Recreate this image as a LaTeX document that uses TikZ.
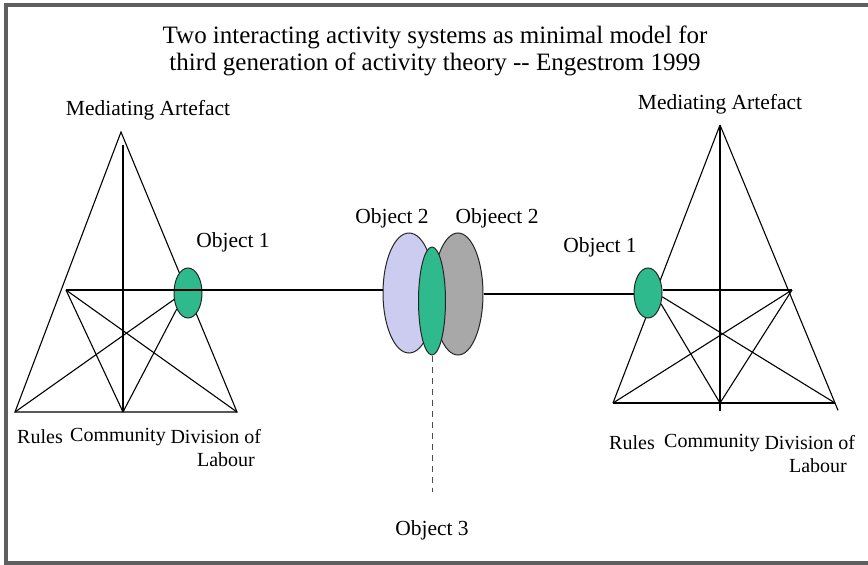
\documentclass[tikz,border=0pt]{standalone}
\usepackage{fontspec}
\setmainfont{Liberation Serif}
\usetikzlibrary{shapes.geometric}

\definecolor{objgreen}{RGB}{46,186,140}
\definecolor{objlilac}{RGB}{204,204,240}
\definecolor{objgrey}{RGB}{168,168,168}
\definecolor{framegrey}{RGB}{95,95,95}

\begin{document}
\begin{tikzpicture}[x=1pt,y=-1pt,
    line width=1.1pt,
    every node/.style={font=\fontsize{21.5}{26}\selectfont,inner sep=0pt}]
    % style of objects and corner labels
    \tikzset{objstyle/.style={ellipse,draw=black!85,line width=1pt,inner sep=0pt}}
    \tikzset{cornerstyle/.style={font=\fontsize{20}{24}\selectfont}}
    \useasboundingbox (0,0) rectangle (868,565);
    % frame
    \draw[framegrey,line width=4pt] (872,5) -- (6,5) -- (6,563) -- (872,563);
    % title
    \node[align=center,font=\fontsize{25}{27}\selectfont] (title) at (435,51)
      {Two interacting activity systems as minimal model for\\
       third generation of activity theory {-}{-} Engestrom 1999};
    % left system
    \coordinate (apexL) at (121,132);
    \coordinate (vtopL) at (123,145);
    \coordinate (rulesL) at (15,412);
    \coordinate (commL) at (123,412);
    \coordinate (divL) at (237,412);
    \coordinate (midL) at (66,290);
    \draw (apexL) -- (rulesL) -- (divL) -- cycle;
    \draw (vtopL) -- (commL);
    \draw (midL) -- (commL);
    \draw (midL) -- (divL);
    \node[objstyle,fill=objgreen,minimum width=28pt,minimum height=50pt] (objL) at (188,293) {};
    \draw (objL.205) -- (rulesL);
    \draw (objL.235) -- (commL);
    % shared object
    \node[objstyle,fill=objlilac,minimum width=52pt,minimum height=120pt] (lilac) at (409,293) {};
    \node[objstyle,fill=objgrey,minimum width=50pt,minimum height=122pt] (grey) at (458,294) {};
    \node[objstyle,fill=objgreen,minimum width=27pt,minimum height=108pt] (green) at (432,301) {};
    \draw (midL) -- (midL -| lilac.west);
    \coordinate (obj3) at (432,492);
    \draw[dashed,line width=0.8pt,black!70,dash pattern=on 6pt off 5pt] (green.south) -- (obj3);
    % right system
    \coordinate (apexR) at (720,125);
    \coordinate (rulesR) at (613,403);
    \coordinate (commR) at (720,403);
    \coordinate (divR) at (835,403);
    \coordinate (midR) at (792,290);
    \draw (rulesR) -- (divR);
    \draw (apexR) -- (rulesR);
    \draw[shorten >=-8pt] (apexR) -- (divR);
    \draw[shorten >=-8pt] (apexR) -- (commR);
    \draw (midR) -- (rulesR);
    \draw (midR) -- (commR);
    \node[objstyle,fill=objgreen,minimum width=28pt,minimum height=50pt] (objR) at (648,293) {};
    \draw (objR.east |- midR) -- (midR);
    \draw (objR.320) -- (commR);
    \draw (objR.345) -- (divR);
    \draw (grey.east) -- (grey.east -| objR.west);
    % labels
    \node (medL) at (148,110) {Mediating Artefact};
    \node (medR) at (720,104) {Mediating Artefact};
    \node (lobjL) at (233,242) {Object 1};
    \node (lobjR) at (600,247) {Object 1};
    \node (lobj2a) at (392,218) {Object 2};
    \node (lobj2b) at (497,218) {Objeect 2};
    \node (lobj3) at (432,530) {Object 3};
    \node[cornerstyle] (lrulesL) at (40,437) {Rules};
    \node[cornerstyle] (lcommL) at (118,437) {Community};
    \node[cornerstyle,anchor=west] (ldivL) at (170,437) {Division of};
    \node[cornerstyle] (llabL) at (226,460) {Labour};
    \node[cornerstyle] (lrulesR) at (632,443) {Rules};
    \node[cornerstyle] (lcommR) at (712,443) {Community};
    \node[cornerstyle,anchor=west] (ldivR) at (764,443) {Division of};
    \node[cornerstyle] (llabR) at (818,466) {Labour};
\end{tikzpicture}
\end{document}
